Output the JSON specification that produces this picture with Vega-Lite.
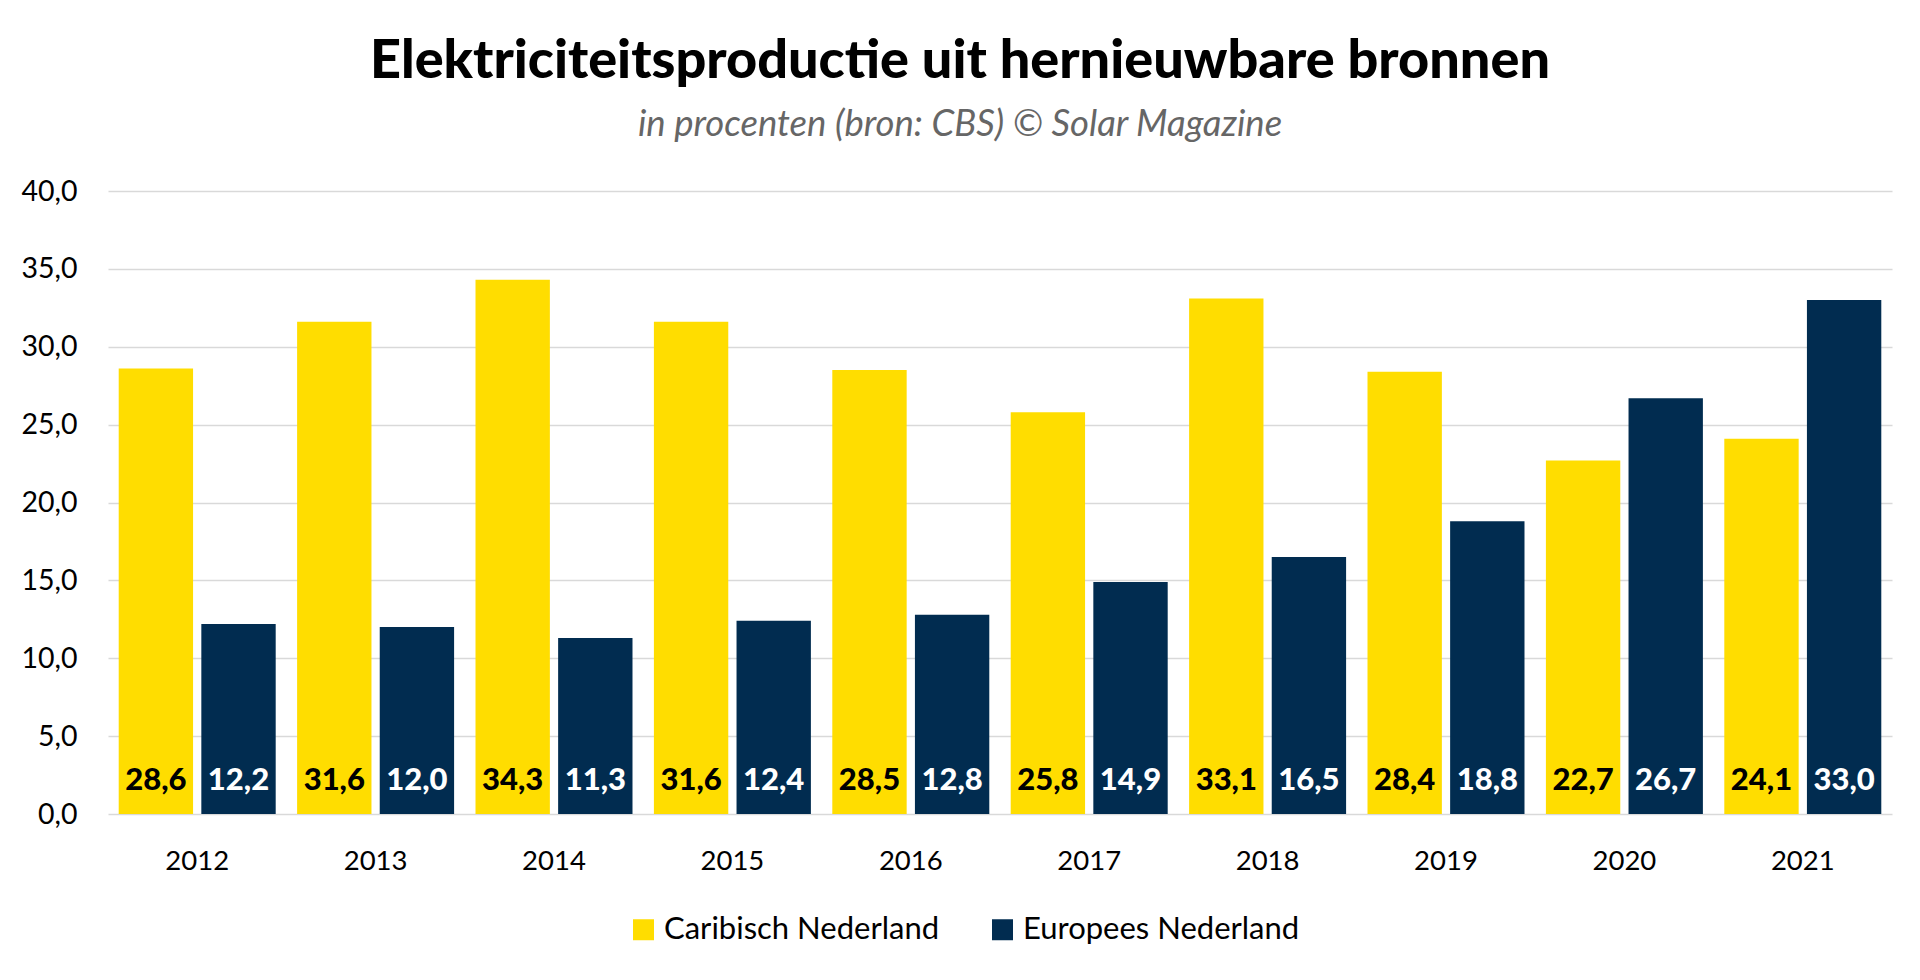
{
 "$schema": "https://vega.github.io/schema/vega-lite/v6.json",
 "width": 1784, "height": 623,
 "autosize": {"type": "none"},
 "padding": {"left": 108, "top": 191, "right": 28, "bottom": 166},
 "background": "white",
 "config": {
  "locale": {"number": {"decimal": ",", "thousands": ".", "grouping": [3], "currency": ["€", ""]}},
  "font": "Lato",
  "view": {"stroke": null}
 },
 "title": {
  "text": "Elektriciteitsproductie uit hernieuwbare bronnen",
  "subtitle": "in procenten (bron: CBS) © Solar Magazine",
  "fontSize": 54, "fontWeight": 900, "color": "#000000",
  "subtitleFontSize": 36.5, "subtitleFontStyle": "italic", "subtitleColor": "#666666",
  "anchor": "middle", "dx": -40, "offset": 34, "subtitlePadding": 18,
  "font": "Lato", "subtitleFont": "Lato"
 },
 "data": {"values": [
  {"jaar": "2012", "regio": "Caribisch Nederland", "waarde": 28.6},
  {"jaar": "2012", "regio": "Europees Nederland", "waarde": 12.2},
  {"jaar": "2013", "regio": "Caribisch Nederland", "waarde": 31.6},
  {"jaar": "2013", "regio": "Europees Nederland", "waarde": 12.0},
  {"jaar": "2014", "regio": "Caribisch Nederland", "waarde": 34.3},
  {"jaar": "2014", "regio": "Europees Nederland", "waarde": 11.3},
  {"jaar": "2015", "regio": "Caribisch Nederland", "waarde": 31.6},
  {"jaar": "2015", "regio": "Europees Nederland", "waarde": 12.4},
  {"jaar": "2016", "regio": "Caribisch Nederland", "waarde": 28.5},
  {"jaar": "2016", "regio": "Europees Nederland", "waarde": 12.8},
  {"jaar": "2017", "regio": "Caribisch Nederland", "waarde": 25.8},
  {"jaar": "2017", "regio": "Europees Nederland", "waarde": 14.9},
  {"jaar": "2018", "regio": "Caribisch Nederland", "waarde": 33.1},
  {"jaar": "2018", "regio": "Europees Nederland", "waarde": 16.5},
  {"jaar": "2019", "regio": "Caribisch Nederland", "waarde": 28.4},
  {"jaar": "2019", "regio": "Europees Nederland", "waarde": 18.8},
  {"jaar": "2020", "regio": "Caribisch Nederland", "waarde": 22.7},
  {"jaar": "2020", "regio": "Europees Nederland", "waarde": 26.7},
  {"jaar": "2021", "regio": "Caribisch Nederland", "waarde": 24.1},
  {"jaar": "2021", "regio": "Europees Nederland", "waarde": 33.0}
 ]},
 "encoding": {
  "x": {"field": "jaar", "type": "nominal",
   "scale": {"paddingInner": 0.12, "paddingOuter": 0.06},
   "axis": {"title": null, "labelAngle": 0, "ticks": false, "domain": false, "grid": false,
    "labelFontSize": 27.5, "labelPadding": 33, "labelColor": "#000000", "labelFont": "Lato"}},
  "xOffset": {"field": "regio", "type": "nominal", "sort": ["Caribisch Nederland", "Europees Nederland"],
   "scale": {"paddingInner": 0.1}}
 },
 "layer": [
  {
   "mark": {"type": "bar"},
   "encoding": {
    "y": {"field": "waarde", "type": "quantitative",
     "scale": {"domain": [0, 40]},
     "axis": {"title": null, "values": [0, 5, 10, 15, 20, 25, 30, 35, 40], "format": ".1f",
      "domain": false, "ticks": false, "labelFontSize": 28.5, "labelPadding": 31,
      "gridColor": "#d9d9d9", "gridWidth": 1.5, "labelColor": "#000000", "labelFont": "Lato"}},
    "color": {"field": "regio", "type": "nominal",
     "scale": {"domain": ["Caribisch Nederland", "Europees Nederland"], "range": ["#FFDD00", "#012C50"]},
     "legend": {"title": null, "orient": "none", "legendX": 520, "legendY": 723, "direction": "horizontal", "symbolType": "square",
      "symbolSize": 441, "symbolStrokeWidth": 0, "labelFontSize": 31, "labelFont": "Lato", "labelLimit": 0,
      "labelColor": "#000000", "columnPadding": 47, "labelOffset": 5}}
   }
  },
  {
   "mark": {"type": "text", "baseline": "bottom", "dy": -17, "fontSize": 31, "fontWeight": 900, "font": "Lato"},
   "encoding": {
    "y": {"datum": 0, "type": "quantitative"},
    "text": {"field": "waarde", "type": "quantitative", "format": ".1f"},
    "color": {"condition": {"test": "datum.regio === 'Europees Nederland'", "value": "#ffffff"}, "value": "#000000"}
   }
  }
 ]
}
